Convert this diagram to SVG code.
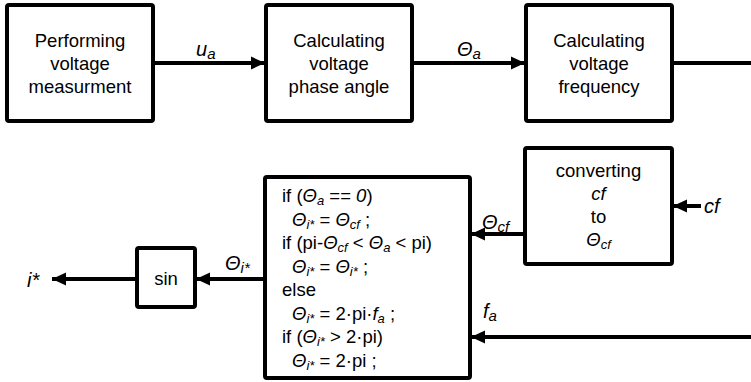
<svg xmlns="http://www.w3.org/2000/svg" width="751" height="382" viewBox="0 0 751 382">
<style>
.box{fill:#fff;stroke:#000;stroke-width:4}
.ln{fill:none;stroke:#000;stroke-width:4}
text{font-family:"Liberation Sans",Arial,sans-serif;font-size:18.5px;fill:#000}
.c{text-anchor:middle}
.it{font-style:italic}
.sub{font-size:13px;font-style:italic}
.lab{font-size:20px;font-style:italic}
.lsub{font-size:15px;font-style:italic}
</style>
<defs>
<marker id="ah" markerUnits="userSpaceOnUse" markerWidth="16" markerHeight="16" viewBox="0 0 16 16" refX="14" refY="8" orient="auto">
<path d="M0,1.5 L14,8 L0,14.5 Z" fill="#000"/>
</marker>
</defs>
<g id="connectors">
<line class="ln" x1="153" y1="63" x2="265" y2="63" marker-end="url(#ah)"/>
<line class="ln" x1="412" y1="63" x2="525" y2="63" marker-end="url(#ah)"/>
<line class="ln" x1="672" y1="63" x2="751" y2="63"/>
<line class="ln" x1="701" y1="206" x2="673" y2="206" marker-end="url(#ah)"/>
<line class="ln" x1="525" y1="234" x2="471" y2="234" marker-end="url(#ah)"/>
<line class="ln" x1="751" y1="337" x2="471" y2="337" marker-end="url(#ah)"/>
<line class="ln" x1="265" y1="279" x2="196" y2="279" marker-end="url(#ah)"/>
<line class="ln" x1="137" y1="279" x2="52" y2="279" marker-end="url(#ah)"/>
<text x="196" y="56" class="lab">u<tspan class="lsub" dy="3">a</tspan></text>
<text x="457" y="56" class="lab">Θ<tspan class="lsub" dy="3">a</tspan></text>
<text x="704" y="213" class="lab">cf</text>
<text x="482" y="229" class="lab">Θ<tspan class="lsub" dy="3">cf</tspan></text>
<text x="483" y="318" class="lab">f<tspan class="lsub" dy="3">a</tspan></text>
<text x="225" y="270" class="lab">Θ<tspan class="lsub" dy="3">i*</tspan></text>
<text x="27" y="287" class="lab">i*</text>
</g>
<g id="measure">
<rect class="box" x="7" y="5" width="146" height="116" rx="2"/>
<text class="c" x="80" y="47">Performing</text>
<text class="c" x="80" y="70">voltage</text>
<text class="c" x="80" y="93">measurment</text>
</g>
<g id="phase">
<rect class="box" x="266" y="5" width="146" height="116" rx="2"/>
<text class="c" x="339" y="47">Calculating</text>
<text class="c" x="339" y="70">voltage</text>
<text class="c" x="339" y="93">phase angle</text>
</g>
<g id="freq">
<rect class="box" x="526" y="5" width="146" height="116" rx="2"/>
<text class="c" x="599" y="47">Calculating</text>
<text class="c" x="599" y="70">voltage</text>
<text class="c" x="599" y="93">frequency</text>
</g>
<g id="convert">
<rect class="box" x="525" y="148" width="147" height="116" rx="2"/>
<text class="c" x="598.5" y="177">converting</text>
<text class="c it" x="598.5" y="200">cf</text>
<text class="c" x="598.5" y="223">to</text>
<text class="c it" x="598.5" y="246">Θ<tspan class="sub" dy="3">cf</tspan></text>
</g>
<g id="logic">
<rect class="box" x="265" y="177" width="205" height="201" rx="2"/>
<text x="282" y="202">if (<tspan class="it">Θ</tspan><tspan class="sub" dy="3">a</tspan><tspan dy="-3"> == </tspan><tspan class="it">0</tspan>)</text>
<text x="292" y="226"><tspan class="it">Θ</tspan><tspan class="sub" dy="3">i*</tspan><tspan dy="-3"> = </tspan><tspan class="it">Θ</tspan><tspan class="sub" dy="3">cf</tspan><tspan dy="-3"> ;</tspan></text>
<text x="282" y="249">if (pi-<tspan class="it">Θ</tspan><tspan class="sub" dy="3">cf</tspan><tspan dy="-3"> &lt; </tspan><tspan class="it">Θ</tspan><tspan class="sub" dy="3">a</tspan><tspan dy="-3"> &lt; pi)</tspan></text>
<text x="292" y="273"><tspan class="it">Θ</tspan><tspan class="sub" dy="3">i*</tspan><tspan dy="-3"> = </tspan><tspan class="it">Θ</tspan><tspan class="sub" dy="3">i*</tspan><tspan dy="-3"> ;</tspan></text>
<text x="282" y="296">else</text>
<text x="292" y="320"><tspan class="it">Θ</tspan><tspan class="sub" dy="3">i*</tspan><tspan dy="-3"> = 2·pi·</tspan><tspan class="it">f</tspan><tspan class="sub" dy="3">a</tspan><tspan dy="-3"> ;</tspan></text>
<text x="282" y="343">if (<tspan class="it">Θ</tspan><tspan class="sub" dy="3">i*</tspan><tspan dy="-3"> &gt; 2·pi)</tspan></text>
<text x="292" y="367"><tspan class="it">Θ</tspan><tspan class="sub" dy="3">i*</tspan><tspan dy="-3"> = 2·pi ;</tspan></text>
</g>
<g id="sin">
<rect class="box" x="137" y="248" width="58" height="59" rx="2"/>
<text class="c" x="166" y="285">sin</text>
</g>
</svg>
